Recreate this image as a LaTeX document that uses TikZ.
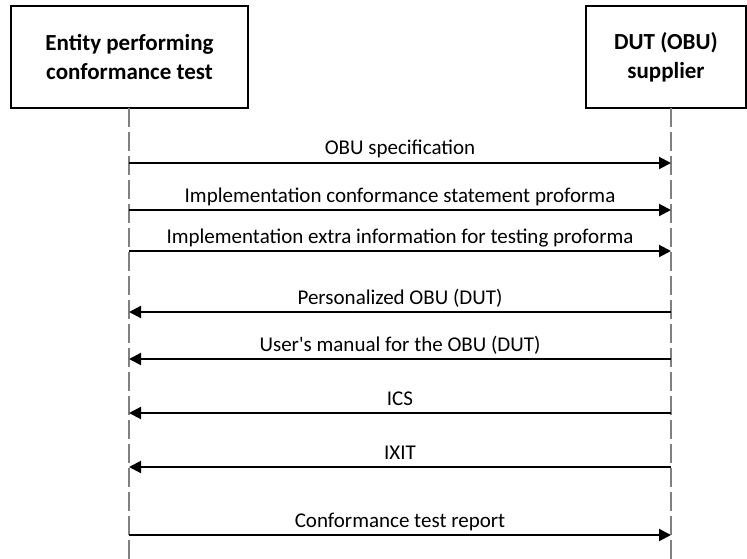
\documentclass[tikz,border=0pt]{standalone}
\usepackage{fontspec}
\setmainfont{Carlito}
\usetikzlibrary{arrows.meta}

\begin{document}
\begin{tikzpicture}[x=1pt,y=-1pt,
  party/.style={draw,line width=2pt,align=center,font=\fontsize{23}{29}\selectfont\bfseries,
    minimum height=102pt,inner sep=0pt},
  life/.style={draw=gray,line width=2pt,dash pattern=on 19pt off 5pt},
  msg/.style={line width=2pt,-{Triangle[length=12pt,width=12pt]}},
  lbl/.style={anchor=base,inner sep=0pt,yshift=8pt,font=\fontsize{21}{25}\selectfont}]
  \useasboundingbox (0,0) rectangle (747,559);
  % the two parties and their lifelines
  \node[party,minimum width=237pt] (ent) at (129.5,57) {Entity performing\\conformance test};
  \node[party,minimum width=160pt] (dut) at (666,57) {DUT (OBU)\\supplier};
  \coordinate (etop) at (129,108);
  \coordinate (ebot) at (129,559);
  \coordinate (dtop) at (671,108);
  \coordinate (dbot) at (671,559);
  \draw[life] (etop) -- (ebot);
  \draw[life] (dtop) -- (dbot);
  % messages, top to bottom; r = sent by the entity, l = sent by the supplier
  \foreach \i/\y/\d/\txt in {
      1/163/r/OBU specification,
      2/210/r/Implementation conformance statement proforma,
      3/251/r/Implementation extra information for testing proforma,
      4/312/l/Personalized OBU (DUT),
      5/359/l/User\textquotesingle s manual for the OBU (DUT),
      6/413/l/ICS,
      7/467/l/IXIT,
      8/535/r/Conformance test report} {
    \coordinate (e\i) at (129,\y);
    \coordinate (d\i) at (671,\y);
    \if\d r
      \draw[msg] (e\i) -- node[lbl] {\txt} (d\i);
    \else
      \draw[msg] (d\i) -- node[lbl] {\txt} (e\i);
    \fi
  }
\end{tikzpicture}
\end{document}
